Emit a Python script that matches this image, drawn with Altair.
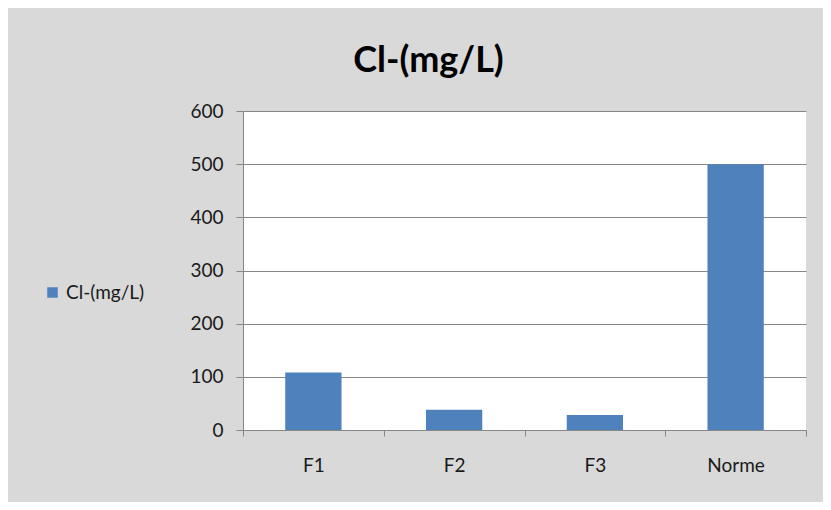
import altair as alt
import pandas as pd

categories = ["F1", "F2", "F3", "Norme"]
values = [108, 38, 28, 500]
series_name = "Cl-(mg/L)"
y_ticks = [0, 100, 200, 300, 400, 500, 600]

df = pd.DataFrame({"category": categories, "value": values, "series": [series_name] * len(categories)})

chart = alt.Chart(df).mark_bar(color="#4f81bd", width=alt.RelativeBandSize(0.4)).encode(
    x=alt.X("category:N", sort=categories,
            scale=alt.Scale(paddingInner=0, paddingOuter=0),
            axis=alt.Axis(title=None, labelAngle=0, tickBand="extent", tickSize=6,
                          labelPadding=20, labelFontSize=19, labelColor="#1a1a1a",
                          labelFont="Lato", domainColor="#868686", tickColor="#868686",
                          grid=False)),
    y=alt.Y("value:Q", scale=alt.Scale(domain=[0, 600], nice=False),
            axis=alt.Axis(title=None, values=y_ticks, tickSize=7, labelPadding=13,
                          labelFontSize=19, labelColor="#1a1a1a", labelFont="Lato",
                          domainColor="#868686", tickColor="#868686",
                          grid=True, gridColor="#868686", gridWidth=1)),
    color=alt.Color("series:N", scale=alt.Scale(range=["#4f81bd"]),
                    legend=alt.Legend(title=None, orient="none", legendX=-200, legendY=172,
                                      symbolType="square", symbolSize=110,
                                      symbolStrokeWidth=0, symbolOffset=0,
                                      labelFontSize=19, labelFont="Lato", labelColor="#1a1a1a")),
).properties(
    width=563,
    height=319,
    title=alt.TitleParams(series_name, fontSize=36, font="Lato", fontWeight="bold",
                          color="#000000", anchor="middle", dx=-96, offset=22),
    autosize=alt.AutoSizeParams(type="none"),
    padding={"left": 235, "top": 103, "right": 17, "bottom": 72},
    background="#d9d9d9",
).configure_view(fill="white", stroke=None)

chart.save("out.html", embed_options={"renderer": "svg", "actions": False})
